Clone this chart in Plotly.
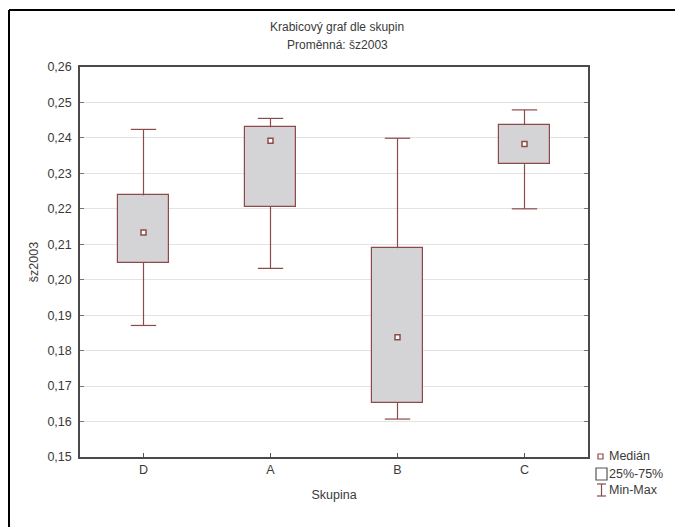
import plotly.graph_objects as go

# Box-plot statistics of šz2003 per group
groups = ["D", "A", "B", "C"]
minimum = [0.1871, 0.2032, 0.1607, 0.2200]
q1 = [0.2048, 0.2206, 0.1653, 0.2326]
median = [0.2133, 0.2392, 0.1838, 0.2383]
q3 = [0.2238, 0.2430, 0.2089, 0.2436]
maximum = [0.2424, 0.2455, 0.2399, 0.2479]
y_ticks = [0.15, 0.16, 0.17, 0.18, 0.19, 0.20, 0.21, 0.22, 0.23, 0.24, 0.25, 0.26]

W, H = 675, 527
ML, MR, MT, MB = 80, 87, 67, 70
PW, PH = W - ML - MR, H - MT - MB

LINE = "#8e4a4a"
FILL = "#d4d4d6"
TEXT = "#3a3a3a"
FONT = "Liberation Sans, Arial, sans-serif"
BOX_W = 0.4
CAP_HALF = 0.1

xpos = list(range(len(groups)))


def px(x):
    return (x - ML) / PW


def py(y):
    return (H - MB - y) / PH


# whisker stems and caps as one broken polyline
wx, wy = [], []
for x, lo, b, t, hi in zip(xpos, minimum, q1, q3, maximum):
    wx += [x, x, None, x, x, None,
           x - CAP_HALF, x + CAP_HALF, None, x - CAP_HALF, x + CAP_HALF, None]
    wy += [t, hi, None, b, lo, None, hi, hi, None, lo, lo, None]

fig = go.Figure()

fig.add_trace(go.Scatter(
    x=wx, y=wy, mode="lines", line=dict(color=LINE, width=1.2),
    hoverinfo="skip", showlegend=False,
))

# 25%-75% boxes
fig.add_trace(go.Bar(
    x=xpos, y=[b - a for a, b in zip(q1, q3)], base=q1, width=BOX_W,
    marker=dict(color=FILL, line=dict(color=LINE, width=1.2)),
    hoverinfo="skip", showlegend=False,
))

# medians
fig.add_trace(go.Scatter(
    x=xpos, y=median, mode="markers",
    marker=dict(symbol="square", size=5, color="white",
                line=dict(color=LINE, width=1.5)),
    hoverinfo="skip", showlegend=False,
))

shapes = [
    # outer frame lines (top and left)
    dict(type="line", xref="paper", yref="paper",
         x0=px(9), x1=px(675), y0=py(10), y1=py(10),
         line=dict(color="black", width=2)),
    dict(type="line", xref="paper", yref="paper",
         x0=px(9), x1=px(9), y0=py(10), y1=py(527),
         line=dict(color="black", width=2)),
    # legend symbols
    dict(type="rect", xref="paper", yref="paper",
         x0=px(598), x1=px(603), y0=py(459), y1=py(454),
         line=dict(color=LINE, width=1.2), fillcolor="white"),
    dict(type="rect", xref="paper", yref="paper",
         x0=px(596), x1=px(607), y0=py(480), y1=py(468),
         line=dict(color="#555555", width=1.2), fillcolor="white"),
    dict(type="line", xref="paper", yref="paper",
         x0=px(601.5), x1=px(601.5), y0=py(484), y1=py(496),
         line=dict(color=LINE, width=1.2)),
    dict(type="line", xref="paper", yref="paper",
         x0=px(597), x1=px(606), y0=py(484), y1=py(484),
         line=dict(color=LINE, width=1.2)),
    dict(type="line", xref="paper", yref="paper",
         x0=px(597), x1=px(606), y0=py(496), y1=py(496),
         line=dict(color=LINE, width=1.2)),
]

annotations = [
    dict(text="Krabicový graf dle skupin", xref="paper", yref="paper",
         x=px(337), y=py(27), showarrow=False, xanchor="center", yanchor="middle",
         font=dict(size=12, color=TEXT, family=FONT)),
    dict(text="Proměnná: šz2003", xref="paper", yref="paper",
         x=px(337), y=py(45), showarrow=False, xanchor="center", yanchor="middle",
         font=dict(size=12, color=TEXT, family=FONT)),
]
for label, ypix in [("Medián", 456), ("25%-75%", 474), ("Min-Max", 490)]:
    annotations.append(dict(
        text=label, xref="paper", yref="paper", x=px(607), y=py(ypix),
        showarrow=False, xanchor="left", yanchor="middle",
        font=dict(size=12.5, color=TEXT, family=FONT)))

fig.update_layout(
    width=W, height=H,
    margin=dict(l=ML, r=MR, t=MT, b=MB),
    paper_bgcolor="white", plot_bgcolor="white",
    separators=", ",
    font=dict(family=FONT, size=12, color=TEXT),
    shapes=shapes, annotations=annotations,
    bargap=0,
    xaxis=dict(
        range=[-0.5, 3.5], tickvals=xpos, ticktext=groups,
        showgrid=False, zeroline=False,
        showline=True, linecolor="#4a4a4a", linewidth=1.5, mirror=True,
        ticks="inside", ticklen=4, tickcolor="#555555",
        title=dict(text="Skupina", standoff=14, font=dict(size=12.5, color=TEXT)),
        tickfont=dict(size=12.5, color=TEXT),
    ),
    yaxis=dict(
        range=[0.15, 0.26], tickvals=y_ticks, tickformat=".2f",
        showgrid=True, gridcolor="#e3e3e3", gridwidth=1, zeroline=False,
        showline=True, linecolor="#4a4a4a", linewidth=1.5, mirror="ticks",
        ticks="inside", ticklen=4, tickcolor="#777777",
        ticklabelstandoff=4,
        title=dict(text="šz2003", standoff=6, font=dict(size=12.5, color=TEXT)),
        tickfont=dict(size=12.5, color=TEXT),
    ),
)

fig.write_html("out.html")
